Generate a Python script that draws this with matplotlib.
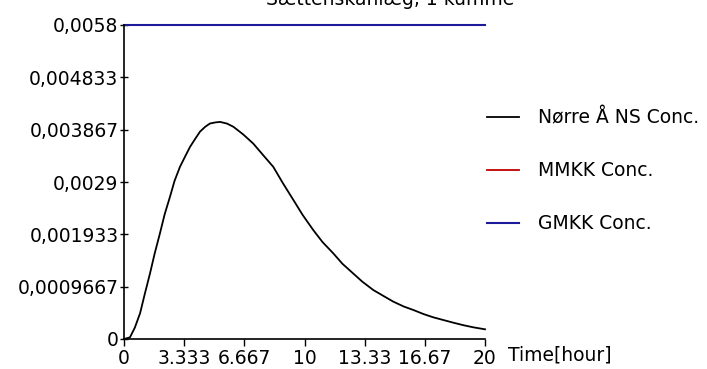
import numpy as np
import matplotlib.pyplot as plt

# values
time_h = [0, 0.33, 0.6, 0.89, 1.15, 1.44, 1.7, 1.99, 2.25, 2.55, 2.8, 3.10, 3.4,
          3.66, 3.95, 4.21, 4.5, 4.76, 5.05, 5.32, 5.7, 6.06, 6.6, 7.16, 7.7,
          8.27, 8.8, 9.38, 9.9, 10.49, 11.0, 11.60, 12.1, 12.70, 13.2, 13.81,
          14.4, 14.92, 15.5, 16.03, 16.6, 17.14, 17.7, 18.24, 18.8, 19.35, 20]
norre_conc = [0, 0.00003, 0.00021, 0.000475, 0.00083, 0.00121, 0.00158, 0.00195,
              0.0023, 0.00263, 0.00292, 0.00318, 0.00338, 0.00355, 0.0037,
              0.00383, 0.00392, 0.00398, 0.004, 0.00401, 0.00398, 0.00392,
              0.00378, 0.00361, 0.0034, 0.00318, 0.00288, 0.00257, 0.00229,
              0.00201, 0.00179, 0.00158, 0.00139, 0.00121, 0.00106, 0.000905,
              0.00079, 0.00069, 0.0006, 0.000536, 0.00046, 0.0004, 0.00035,
              0.000302, 0.000255, 0.000216, 0.000179]
limit_time = [0, 20]
mmkk_conc = [0.0058, 0.0058]
gmkk_conc = [0.0058, 0.0058]

y_ticks = [0, 0.0009667, 0.001933, 0.0029, 0.003867, 0.004833, 0.0058]
y_labels = ["0", "0,0009667", "0,001933", "0,0029", "0,003867", "0,004833", "0,0058"]
x_ticks = [0, 3.333, 6.667, 10, 13.33, 16.67, 20]
x_labels = ["0", "3.333", "6.667", "10", "13.33", "16.67", "20"]
series_names = ["Nørre Å NS Conc.", "MMKK Conc.", "GMKK Conc."]
title = "Sættenskanlæg, 1 kumme"

W, H = 707, 369
fs = 13.5
fig = plt.figure(figsize=(W / 100, H / 100), dpi=100)
ax = fig.add_axes([124 / W, 30 / H, 361 / W, 314 / H])

ax.plot(time_h, norre_conc, color="black", lw=1.3, label=series_names[0], clip_on=False)
ax.plot(limit_time, mmkk_conc, color="#c00000", lw=1.3, label=series_names[1], clip_on=False)
ax.plot(limit_time, gmkk_conc, color="#1a1a9a", lw=1.5, label=series_names[2], clip_on=False)

ax.set_xlim(0, 20)
ax.set_ylim(0, 0.0058)
ax.set_xticks(x_ticks)
ax.set_xticklabels(x_labels)
ax.set_yticks(y_ticks)
ax.set_yticklabels(y_labels)
for s in ["top", "right"]:
    ax.spines[s].set_visible(False)
for s in ["left", "bottom"]:
    ax.spines[s].set_linewidth(1.2)
ax.tick_params(labelsize=fs, width=1)
ax.tick_params(axis="y", direction="inout", length=6, pad=1)
ax.tick_params(axis="x", direction="out", length=5, pad=2)

fig.text(508 / W, 1 - 355 / H, "Time[hour]", fontsize=fs, va="center", ha="left")
fig.text(390 / W, 1 - (-1) / H, title, fontsize=fs, va="center", ha="center")

ax.legend(loc="upper left", bbox_to_anchor=(487 / W, 1 - 108 / H),
          bbox_transform=fig.transFigure, frameon=False, fontsize=fs,
          borderpad=0, borderaxespad=0, handlelength=1.7,
          labelspacing=1.82, handletextpad=1.0)

fig.savefig("out.png", dpi=100)
